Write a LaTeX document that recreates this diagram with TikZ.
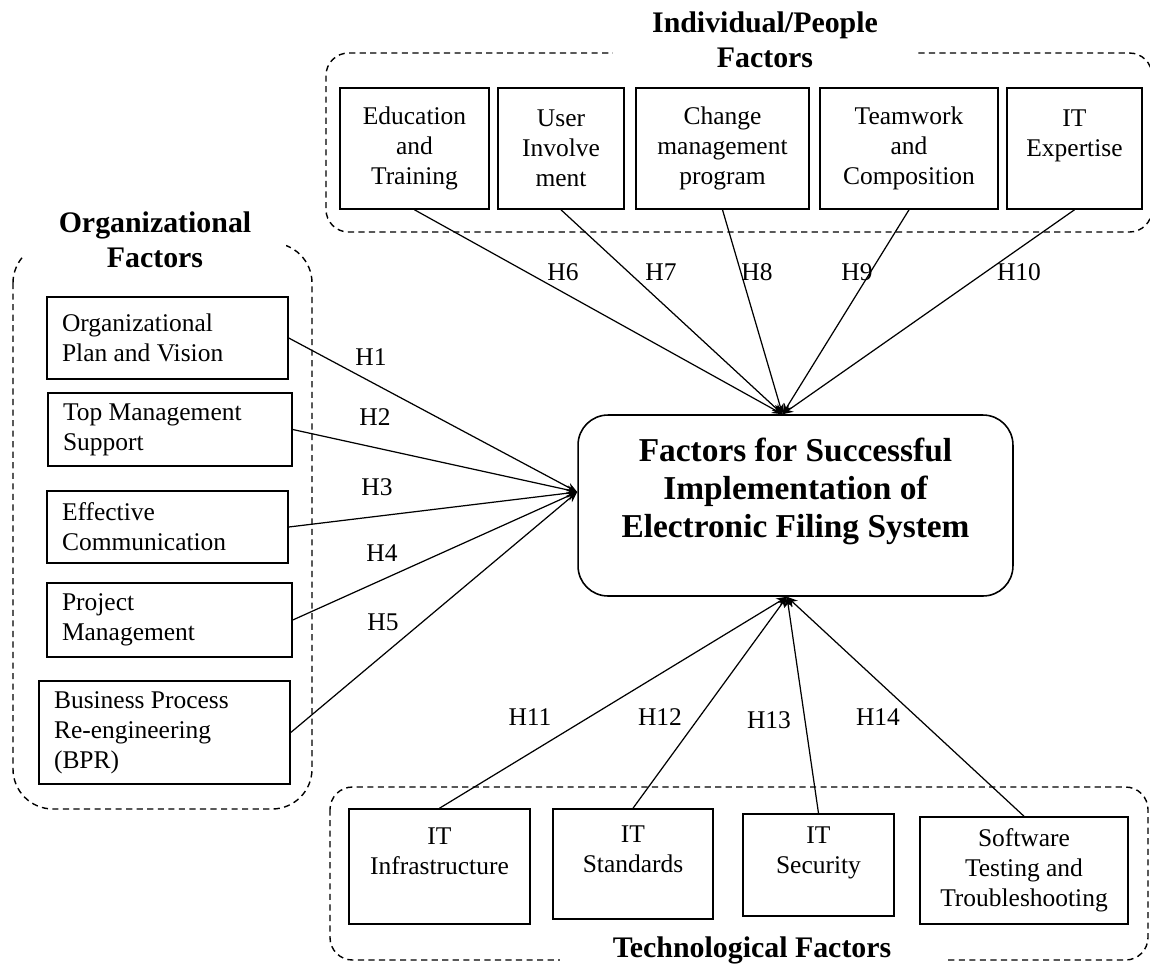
\documentclass[tikz,border=0pt]{standalone}
\usepackage{fontspec}
\setmainfont{Liberation Serif}
\usepackage{tikz}
\usetikzlibrary{arrows.meta}
\newcommand{\boxfont}{\fontsize{14.5}{17}\selectfont}
\newcommand{\titlefont}{\fontsize{17}{19.8}\selectfont\bfseries}
\tikzset{
  factorbox/.style={rectangle, draw, line width=0.9pt, font=\boxfont, align=flush center, inner sep=2pt},
  leftbox/.style={rectangle, draw, line width=0.9pt, font=\boxfont, align=flush left, inner xsep=0.3cm},
  goalbox/.style={rectangle, draw, line width=0.9pt, rounded corners=0.6cm, align=flush center,
                  font=\fontsize{19}{21.5}\selectfont\bfseries},
  group/.style={draw, line width=0.8pt, dash pattern=on 3.5pt off 2.5pt},
  grouptitle/.style={fill=white, font=\titlefont, align=flush center},
  hyp/.style={-{Stealth[length=6pt,width=5pt]}, line width=0.7pt},
  hlabel/.style={font=\boxfont, inner sep=1pt},
}
\begin{document}
\begin{tikzpicture}[x=0.02cm, y=-0.02cm]
\useasboundingbox (0,0) rectangle (1150,965);

%Groups
\draw[group, rounded corners=0.45cm] (326,53) rectangle (1152,232);
\draw[group, rounded corners=0.8cm] (13,243) rectangle (312,809);
\draw[group, rounded corners=0.45cm] (330,787) rectangle (1148,960);
\node[grouptitle, inner xsep=22pt] (peopleT) at (765,40) {Individual/People\\Factors};
\node[grouptitle, inner xsep=20pt] (orgT) at (155,240) {Organizational\\Factors};
\node[grouptitle, inner xsep=30pt, inner ysep=1pt] (techT) at (752,950) {Technological Factors};

%Nodes
\node[goalbox, minimum width=8.7cm, minimum height=3.62cm, text depth=0.72cm] (goal) at (795.5,505.5)
  {Factors for Successful\\Implementation of\\Electronic Filing System};

\node[factorbox, minimum width=2.98cm, minimum height=2.42cm] (edu) at (414.5,148.5) {Education\\and\\Training};
\node[factorbox, minimum width=2.52cm, minimum height=2.42cm] (inv) at (561,148.5) {User\\Involve\\ment};
\node[factorbox, minimum width=3.46cm, minimum height=2.42cm] (chg) at (722.5,148.5) {Change\\management\\program};
\node[factorbox, minimum width=3.56cm, minimum height=2.42cm] (team) at (909,148.5) {Teamwork\\and\\Composition};
\node[factorbox, minimum width=2.7cm, minimum height=2.42cm] (itx) at (1074.5,148.5) {IT\\Expertise\\~};

\node[leftbox, text width=4.22cm, minimum height=1.64cm] (plan) at (167.5,338) {Organizational\\Plan and Vision};
\node[leftbox, text width=4.28cm, minimum height=1.46cm] (topm) at (170,429.5) {Top Management\\Support};
\node[leftbox, text width=4.22cm, minimum height=1.44cm] (comm) at (167.5,527) {Effective\\Communication};
\node[leftbox, text width=4.30cm, minimum height=1.48cm] (proj) at (169.5,620) {Project\\Management};
\node[leftbox, text width=4.42cm, minimum height=2.06cm] (bpr) at (164.5,732.5) {Business Process\\Re-engineering\\(BPR)};

\node[factorbox, minimum width=3.62cm, minimum height=2.3cm] (infra) at (439.5,866.5) {IT\\Infrastructure\\~};
\node[factorbox, minimum width=3.2cm, minimum height=2.2cm] (std) at (633,864) {IT\\Standards\\~};
\node[factorbox, minimum width=3.02cm, minimum height=2.04cm] (sec) at (818.5,865) {IT\\Security\\~};
\node[factorbox, minimum width=4.16cm, minimum height=2.14cm] (soft) at (1024,870.5) {Software\\Testing and\\Troubleshooting};

\coordinate (inN) at ([xshift=-0.26cm]goal.north);
\coordinate (inW) at ([yshift=0.27cm]goal.west);
\coordinate (inS) at ([xshift=-0.17cm]goal.south);

%Lines
\draw[hyp] (plan.east) -- (inW);
\draw[hyp] (topm.east) -- (inW);
\draw[hyp] (comm.east) -- (inW);
\draw[hyp] (proj.east) -- (inW);
\draw[hyp] (bpr.east) -- (inW);
\draw[hyp] (edu.south) -- (inN);
\draw[hyp] (inv.south) -- (inN);
\draw[hyp] (chg.south) -- (inN);
\draw[hyp] (team.south) -- (inN);
\draw[hyp] (itx.south) -- (inN);
\draw[hyp] (infra.north) -- (inS);
\draw[hyp] (std.north) -- (inS);
\draw[hyp] (sec.north) -- (inS);
\draw[hyp] (soft.north) -- (inS);

%Labels
\node[hlabel] (h1) at (371,357) {H1};
\node[hlabel] (h2) at (375,417) {H2};
\node[hlabel] (h3) at (377,487) {H3};
\node[hlabel] (h4) at (382,553) {H4};
\node[hlabel] (h5) at (383,622) {H5};
\node[hlabel] (h6) at (563,272) {H6};
\node[hlabel] (h7) at (661,272) {H7};
\node[hlabel] (h8) at (757,272) {H8};
\node[hlabel] (h9) at (857,272) {H9};
\node[hlabel] (h10) at (1019,272) {H10};
\node[hlabel] (h11) at (530,717) {H11};
\node[hlabel] (h12) at (660,717) {H12};
\node[hlabel] (h13) at (769,720) {H13};
\node[hlabel] (h14) at (878,717) {H14};
\end{tikzpicture}
\end{document}
